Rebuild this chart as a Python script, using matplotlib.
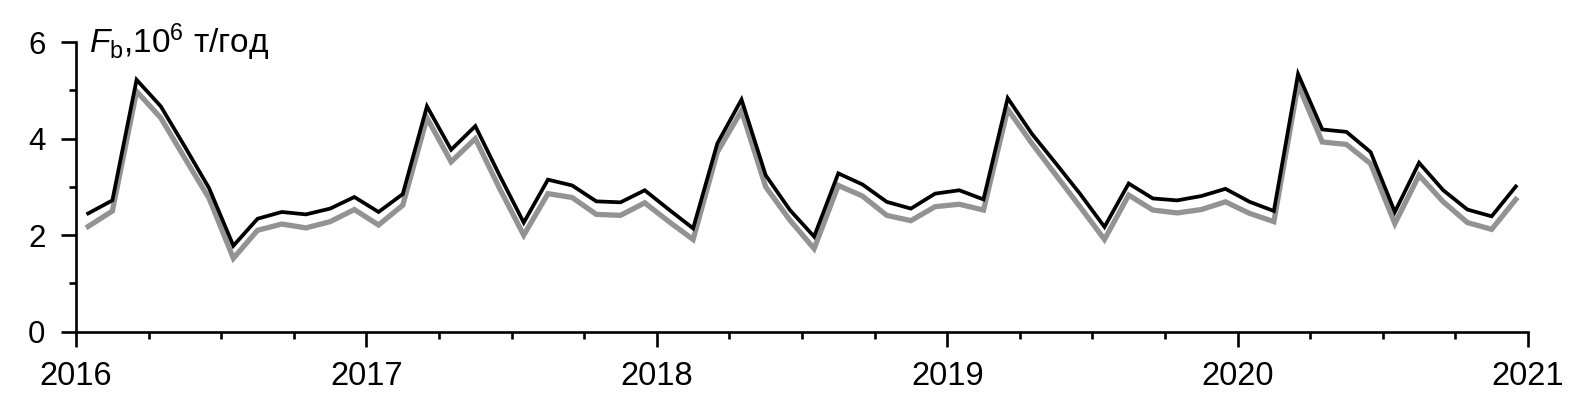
import matplotlib

matplotlib.use("Agg")
import matplotlib.pyplot as plt
import numpy as np
from matplotlib.ticker import MultipleLocator

plt.rcParams["font.family"] = ["Liberation Sans", "DejaVu Sans"]
plt.rcParams["mathtext.fontset"] = "custom"
plt.rcParams["mathtext.rm"] = "Liberation Sans"
plt.rcParams["mathtext.it"] = "Liberation Sans:italic"

# monthly values, Jan 2016 .. Dec 2020
start_year = 2016
years = [2016, 2017, 2018, 2019, 2020, 2021]
flux_black = [
    2.45, 2.72, 5.22, 4.67, 3.83, 2.97, 1.78, 2.34, 2.48, 2.43, 2.55, 2.79,
    2.48, 2.85, 4.67, 3.77, 4.26, 3.24, 2.26, 3.15, 3.03, 2.70, 2.68, 2.93,
    2.53, 2.14, 3.90, 4.81, 3.24, 2.52, 1.97, 3.28, 3.05, 2.69, 2.55, 2.86,
    2.93, 2.74, 4.84, 4.10, 3.48, 2.85, 2.17, 3.07, 2.76, 2.72, 2.81, 2.96,
    2.69, 2.50, 5.34, 4.19, 4.14, 3.72, 2.48, 3.50, 2.93, 2.53, 2.39, 3.01,
]
flux_gray = [
    2.18, 2.50, 4.98, 4.43, 3.59, 2.76, 1.52, 2.10, 2.23, 2.15, 2.28, 2.53,
    2.21, 2.62, 4.43, 3.52, 4.00, 2.97, 2.00, 2.86, 2.78, 2.43, 2.41, 2.67,
    2.28, 1.91, 3.72, 4.58, 3.00, 2.31, 1.72, 3.03, 2.81, 2.41, 2.30, 2.59,
    2.64, 2.52, 4.61, 3.90, 3.24, 2.58, 1.91, 2.83, 2.52, 2.46, 2.53, 2.69,
    2.45, 2.28, 5.12, 3.93, 3.88, 3.48, 2.24, 3.24, 2.69, 2.26, 2.12, 2.74,
]
y_label = r"$F_{\mathrm{b}}$,10$^6$ т/год"

months = np.arange(len(flux_black))
x = start_year + (months + 0.5) / 12.0

fig = plt.figure(figsize=(15.85, 4.13), dpi=100)
ax = fig.add_axes([0.048, 0.197, 0.916, 0.701])

ax.plot(x, flux_gray, color="#939393", lw=3.8, solid_joinstyle="miter", zorder=2)
ax.plot(x, flux_black, color="black", lw=2.7, solid_joinstyle="miter", zorder=3)

ax.set_xlim(years[0], years[-1])
ax.set_ylim(0, 6)
ax.set_xticks(years)
ax.set_xticklabels([str(y) for y in years])
ax.xaxis.set_minor_locator(MultipleLocator(0.25))
ax.set_yticks([0, 2, 4, 6])
ax.yaxis.set_minor_locator(MultipleLocator(1))

for side in ("top", "right"):
    ax.spines[side].set_visible(False)
for side in ("left", "bottom"):
    ax.spines[side].set_linewidth(1.9)

ax.tick_params(axis="both", which="major", direction="out", length=11,
               width=1.9, colors="black")
ax.tick_params(axis="both", which="minor", direction="out", length=5,
               width=1.9)
ax.tick_params(axis="x", which="major", labelsize=23.5, pad=10)
ax.tick_params(axis="y", which="major", labelsize=22.5, pad=11)

ax.text(2016.045, 6.0, y_label, fontsize=24, va="center", ha="left")

fig.savefig("out.png", dpi=100)
